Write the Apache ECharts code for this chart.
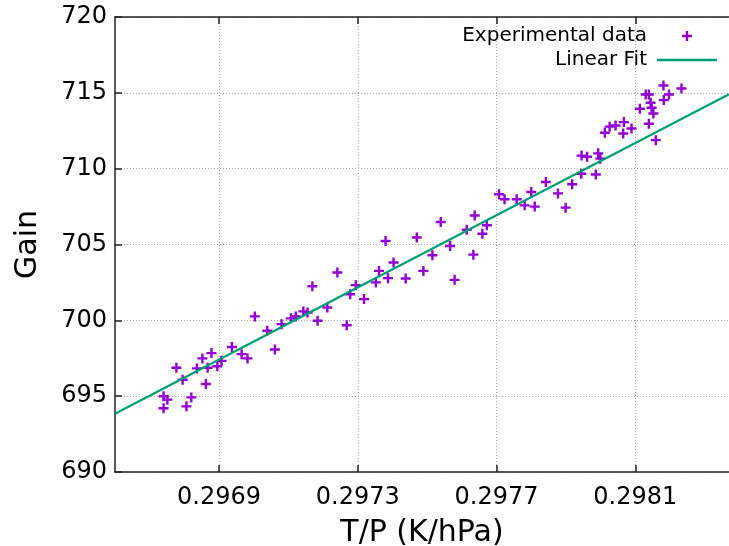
<!DOCTYPE html>
<html>
<head>
<meta charset="utf-8">
<script src="https://cdn.jsdelivr.net/npm/echarts@6/dist/echarts.min.js"></script>
<style>
html,body{margin:0;padding:0;background:#fff;}
#chart{width:729px;height:546px;}
</style>
</head>
<body>
<div id="chart"></div>
<script>
// Experimental data (T/P in K/hPa, Gain)
var expX = [0.296740,0.296740,0.296751,0.296777,0.296795,0.296806,0.296820,0.296836,0.296852,0.296862,
            0.296867,0.296878,0.296895,0.296907,0.296937,0.296965,0.296982,0.297003,0.297039,0.297061,
            0.297080,0.297107,0.297121,0.297143,0.297155,0.297169,0.297184,0.297212,0.297241,0.297268,
            0.297278,0.297294,0.297318,0.297352,0.297361,0.297380,0.297387,0.297403,0.297438,0.297470,
            0.297489,0.297515,0.297539,0.297566,0.297579,0.297614,0.297633,0.297637,0.297659,0.297672,
            0.297707,0.297723,0.297758,0.297781,0.297800,0.297810,0.297842,0.297877,0.297899,0.297918,
            0.297944,0.297945,0.297961,0.297986,0.297993,0.297999,0.298012,0.298026,0.298043,0.298065,
            0.298067,0.298089,0.298113,0.298130,0.298139,0.298139,0.298144,0.298147,0.298152,0.298159,
            0.298181,0.298182,0.298197,0.298233];
var expY = [694.99,694.20,694.77,696.87,696.08,694.33,694.92,696.83,697.49,695.80,
            696.87,697.84,696.97,697.33,698.24,697.77,697.49,700.26,699.31,698.08,
            699.75,700.13,700.26,700.59,700.52,702.25,699.97,700.85,703.15,699.68,
            701.72,702.32,701.40,702.50,703.26,705.23,702.78,703.81,702.76,705.46,
            703.26,704.29,706.48,704.90,702.67,705.97,704.33,706.91,705.71,706.27,
            708.31,707.98,707.98,707.58,708.46,707.50,709.12,708.37,707.43,708.97,
            709.66,710.86,710.79,709.62,711.01,710.66,712.37,712.77,712.85,712.32,
            713.07,712.65,713.95,714.89,714.89,712.96,714.35,714.02,713.64,711.88,
            715.48,714.52,714.89,715.29];
// Linear fit end points
var fitX = [0.2966, 0.29837];
var fitY = [693.84, 714.90];
// Axis ticks
var xTicks = [0.2969, 0.2973, 0.2977, 0.2981];
var xMin = 0.2966, xMax = 0.29837;
var yMin = 690, yMax = 720, yStep = 5;

var FONT = 'DejaVu Sans';
var plusPath = 'path://M3.8,0h2.4v3.8h3.8v2.4h-3.8v3.8h-2.4v-3.8h-3.8v-2.4h3.8z';
var AXC = '#222';
var GRIDC = '#a8a8a8';

var chart = echarts.init(document.getElementById('chart'), null, {renderer: 'canvas'});
var expData = expX.map(function (x, i) { return [x, expY[i]]; });
var fitData = fitX.map(function (x, i) { return [x, fitY[i]]; });

var legendText = {fontFamily: FONT, fontSize: 20, color: '#000', padding: [0, 5, 0, 0]};

chart.setOption({
  animation: false,
  backgroundColor: '#fff',
  grid: {left: 115, right: 0, top: 17, bottom: 74, containLabel: false, outerBoundsMode: 'none'},
  legend: [{
    data: ['Experimental data'], orient: 'horizontal', align: 'right',
    right: 37, top: 26, padding: 0, itemWidth: 60, itemHeight: 10,
    selectedMode: false, textStyle: legendText
  }, {
    data: [{name: 'Linear Fit', icon: 'rect'}], orient: 'horizontal', align: 'right',
    right: 12, top: 50, padding: 0, itemWidth: 60, itemHeight: 2.4,
    selectedMode: false, textStyle: legendText
  }],
  xAxis: [{
    type: 'value', min: xMin, max: xMax, position: 'bottom',
    name: 'T/P (K/hPa)', nameLocation: 'middle', nameGap: 46,
    nameTextStyle: {fontFamily: FONT, fontSize: 30, color: '#000'},
    axisLine: {show: true, onZero: false, lineStyle: {color: AXC, width: 1.5}},
    axisTick: {show: true, inside: true, length: 7, customValues: xTicks, lineStyle: {color: AXC, width: 1.5}},
    axisLabel: {customValues: xTicks, margin: 14, fontFamily: FONT, fontSize: 24, color: '#000',
      formatter: function (v) { return Number(v).toFixed(4); }},
    splitLine: {show: true, lineStyle: {type: [1, 2], color: GRIDC, width: 1}}
  }, {
    type: 'value', min: xMin, max: xMax, position: 'top',
    axisLine: {show: true, onZero: false, lineStyle: {color: AXC, width: 1.5}},
    axisTick: {show: true, inside: true, length: 7, customValues: xTicks, lineStyle: {color: AXC, width: 1.5}},
    axisLabel: {show: false, customValues: xTicks},
    splitLine: {show: false}
  }],
  yAxis: {
    type: 'value', min: yMin, max: yMax, interval: yStep,
    name: 'Gain', nameLocation: 'middle', nameGap: 72,
    nameTextStyle: {fontFamily: FONT, fontSize: 30, color: '#000'},
    axisLine: {show: true, onZero: false, lineStyle: {color: AXC, width: 1.5}},
    axisTick: {show: true, inside: true, length: 7, lineStyle: {color: AXC, width: 1.5}},
    axisLabel: {margin: 8, fontFamily: FONT, fontSize: 24, color: '#000'},
    splitLine: {show: true, lineStyle: {type: [1, 2], color: GRIDC, width: 1}}
  },
  series: [{
    name: 'Experimental data', type: 'scatter', data: expData,
    symbol: plusPath, symbolSize: 10, symbolKeepAspect: true,
    itemStyle: {color: '#9400d3', opacity: 1}, z: 3
  }, {
    name: 'Linear Fit', type: 'line', data: fitData,
    symbol: 'none', showSymbol: false,
    lineStyle: {color: '#009e73', width: 2.2},
    itemStyle: {color: '#009e73'}, z: 4
  }]
});
</script>
</body>
</html>
